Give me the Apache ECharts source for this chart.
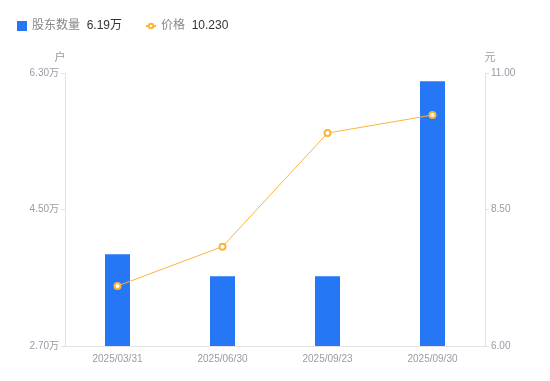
<!DOCTYPE html>
<html><head><meta charset="utf-8">
<script src="https://cdn.jsdelivr.net/npm/echarts@6/dist/echarts.min.js"></script>
<style>html,body{margin:0;padding:0;background:#fff}#c{width:550px;height:381px}</style>
</head><body><div id="c"></div>
<script>
const categories = ['2025/03/31','2025/06/30','2025/09/23','2025/09/30'];
const holders = [3.91, 3.62, 3.62, 6.19];
const prices = [7.10, 7.82, 9.90, 10.23];
const leftTicks = [2.70, 4.50, 6.30];
const rightTicks = [6.00, 8.50, 11.00];
const legendValues = {'股东数量':'6.19万','价格':'10.230'};

const chart = echarts.init(document.getElementById('c'));
const font = '"Liberation Sans","Noto Sans CJK SC",sans-serif';
chart.setOption({
  animation:false,
  textStyle:{fontFamily:font},
  legend:{
    left:12, top:15, itemWidth:10, itemHeight:10, itemGap:23,
    formatter: n => '{n|'+n+'}  {v|'+legendValues[n]+'}',
    textStyle:{rich:{n:{color:'#888',fontSize:12,fontFamily:font},v:{color:'#333',fontSize:12,fontFamily:font}}},
    data:[
      {name:'股东数量',icon:'rect',itemStyle:{color:'#2677f5'}},
      {name:'价格',icon:'path://M0,4H3.2M8.8,4H12M8.8,4A2.8,2.8 0 1 1 3.2,4A2.8,2.8 0 1 1 8.8,4',
       itemStyle:{color:'#fff',borderColor:'#f9b43a',borderWidth:2}}
    ]
  },
  grid:{left:65,right:65,top:73,bottom:35},
  xAxis:{type:'category',data:categories,
    axisLine:{lineStyle:{color:'#e3e3e6'}},axisTick:{show:false},
    axisLabel:{color:'#999aa6',fontSize:10,margin:8}},
  yAxis:[
    {type:'value',name:'户',min:leftTicks[0],max:leftTicks[2],interval:1.8,
     nameTextStyle:{color:'#999aa6',fontSize:11,padding:[0,0,0,-10]},nameGap:10,
     axisLine:{show:true,lineStyle:{color:'#e3e3e6'}},axisTick:{show:true,length:4,lineStyle:{color:'#e3e3e6'}},
     splitLine:{show:false},
     axisLabel:{color:'#999aa6',fontSize:10,margin:6,formatter:v=>v.toFixed(2)+'万'}},
    {type:'value',name:'元',min:rightTicks[0],max:rightTicks[2],interval:2.5,
     nameTextStyle:{color:'#999aa6',fontSize:11,padding:[0,0,0,10]},nameGap:10,
     axisLine:{show:true,lineStyle:{color:'#e3e3e6'}},axisTick:{show:true,length:4,lineStyle:{color:'#e3e3e6'}},
     splitLine:{show:false},
     axisLabel:{color:'#999aa6',fontSize:10,margin:6,formatter:v=>v.toFixed(2)}}
  ],
  series:[
    {name:'股东数量',type:'bar',data:holders,barWidth:25,yAxisIndex:0,
     itemStyle:{color:'#2677f5'}},
    {name:'价格',type:'line',data:prices,yAxisIndex:1,symbol:'circle',symbolSize:6,
     lineStyle:{color:'#f9b43a',width:1},
     itemStyle:{color:'#fff',borderColor:'#f9b43a',borderWidth:2}}
  ]
});
</script></body></html>
